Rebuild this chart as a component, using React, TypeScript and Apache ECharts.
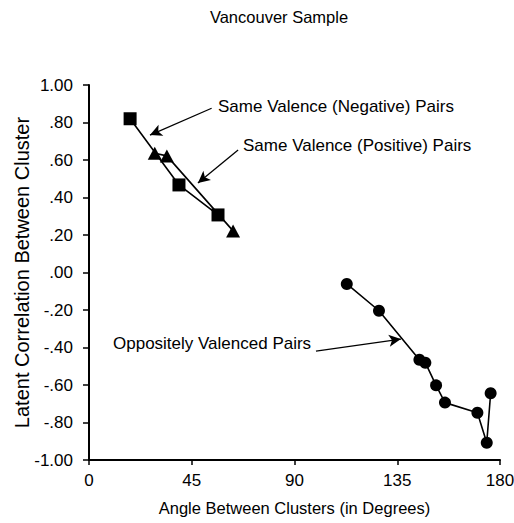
import React, { useEffect, useRef } from "react";
import * as echarts from "echarts";

// ---- data ----
const negativeDeg = [18.0, 39.4, 56.5];
const negativeVal = [0.82, 0.467, 0.307];

const positiveDeg = [28.8, 34.1, 63.1];
const positiveVal = [0.636, 0.622, 0.222];

const oppositeDeg = [112.9, 127.0, 144.7, 147.3, 152.0, 155.9, 170.1, 174.2, 175.9];
const oppositeVal = [-0.061, -0.204, -0.465, -0.481, -0.602, -0.694, -0.748, -0.908, -0.644];

const xTicks = [0, 45, 90, 135, 180];
const yTickValues = [-1, -0.8, -0.6, -0.4, -0.2, 0, 0.2, 0.4, 0.6, 0.8, 1];
const yTickLabels = ["-1.00", "-.80", "-.60", "-.40", "-.20", ".00", ".20", ".40", ".60", ".80", "1.00"];

// annotation arrows, in data coordinates: [fromDeg, fromVal, toDeg, toVal]
const arrowNegative = [53.7, 0.876, 26.7, 0.733];
const arrowPositive = [65.3, 0.653, 47.7, 0.477];
const arrowOpposite = [99.4, -0.419, 136.6, -0.355];

const labelNegative = "Same Valence (Negative) Pairs";
const labelPositive = "Same Valence (Positive) Pairs";
const labelOpposite = "Oppositely Valenced Pairs";

const FONT = "Liberation Sans, Arial, Helvetica, sans-serif";

function pairs(xs: number[], ys: number[]) {
  return xs.map((x, i) => [x, ys[i]]);
}

function arrow(a: number[]) {
  return [{ coord: [a[0], a[1]] }, { coord: [a[2], a[3]] }];
}

export default function App() {
  const ref = useRef<HTMLDivElement>(null);

  useEffect(() => {
    if (!ref.current) return;
    const chart = echarts.init(ref.current, undefined, { renderer: "svg" });

    const lineCommon = {
      type: "line" as const,
      lineStyle: { color: "#000", width: 1.6 },
      itemStyle: { color: "#000" },
      emphasis: { disabled: true },
      silent: true,
    };

    chart.setOption({
      animation: false,
      backgroundColor: "#fff",
      title: {
        text: "Vancouver Sample",
        left: 274,
        top: 3,
        textAlign: "center",
        textStyle: { fontFamily: FONT, fontSize: 16.5, fontWeight: "normal", color: "#000" },
      },
      grid: { left: 89, right: 14, top: 85, bottom: 63, containLabel: false, outerBoundsMode: "none" },
      xAxis: {
        type: "value",
        min: 0,
        max: 180,
        interval: 45,
        name: "Angle Between Clusters (in Degrees)",
        nameLocation: "middle",
        nameGap: 39,
        nameMoveOverlap: false,
        nameTextStyle: { fontFamily: FONT, fontSize: 16.5, color: "#000" },
        axisLine: { show: true, onZero: false, lineStyle: { color: "#000", width: 2 } },
        axisTick: { show: true, length: 5, lineStyle: { color: "#000", width: 1.5 } },
        axisLabel: {
          fontFamily: FONT,
          fontSize: 17,
          color: "#000",
          margin: 12,
          formatter: (v: number) => {
            const i = xTicks.indexOf(Math.round(v));
            return i >= 0 ? String(xTicks[i]) : "";
          },
        },
        splitLine: { show: false },
      },
      yAxis: {
        type: "value",
        min: -1,
        max: 1,
        interval: 0.2,
        name: "Latent Correlation Between Cluster",
        nameLocation: "middle",
        nameGap: 57,
        nameMoveOverlap: false,
        nameRotate: 90,
        nameTextStyle: { fontFamily: FONT, fontSize: 20, color: "#000" },
        axisLine: { show: true, onZero: false, lineStyle: { color: "#000", width: 2 } },
        axisTick: { show: true, length: 6, lineStyle: { color: "#000", width: 1.5 } },
        axisLabel: {
          fontFamily: FONT,
          fontSize: 17,
          color: "#000",
          margin: 16,
          formatter: (v: number) => {
            const r = Math.round(v * 100) / 100;
            const i = yTickValues.findIndex((t) => Math.abs(t - r) < 1e-6);
            return i >= 0 ? yTickLabels[i] : "";
          },
        },
        splitLine: { show: false },
      },
      series: [
        {
          ...lineCommon,
          name: "negative",
          data: pairs(negativeDeg, negativeVal),
          symbol: "rect",
          symbolSize: 13,
          markLine: {
            silent: true,
            symbol: ["none", "arrow"],
            symbolSize: [9, 12],
            lineStyle: { color: "#000", width: 1.3, type: "solid" },
            label: { show: false },
            emphasis: { disabled: true },
            data: [arrow(arrowNegative), arrow(arrowPositive), arrow(arrowOpposite)],
          },
        },
        {
          ...lineCommon,
          name: "positive",
          data: pairs(positiveDeg, positiveVal),
          symbol: "triangle",
          symbolSize: [14, 13],
        },
        {
          ...lineCommon,
          name: "opposite",
          data: pairs(oppositeDeg, oppositeVal),
          symbol: "circle",
          symbolSize: 12,
        },
      ],
      graphic: [
        {
          type: "text",
          left: 218,
          top: 98,
          style: { text: labelNegative, font: `17px ${FONT}`, fill: "#000" },
        },
        {
          type: "text",
          left: 243,
          top: 137,
          style: { text: labelPositive, font: `17px ${FONT}`, fill: "#000" },
        },
        {
          type: "text",
          left: 113,
          top: 335,
          style: { text: labelOpposite, font: `17px ${FONT}`, fill: "#000" },
        },
      ],
    });

    return () => chart.dispose();
  }, []);

  return (
    <div
      ref={ref}
      style={{ position: "fixed", left: 0, top: 0, width: 514, height: 523, background: "#fff" }}
    />
  );
}
